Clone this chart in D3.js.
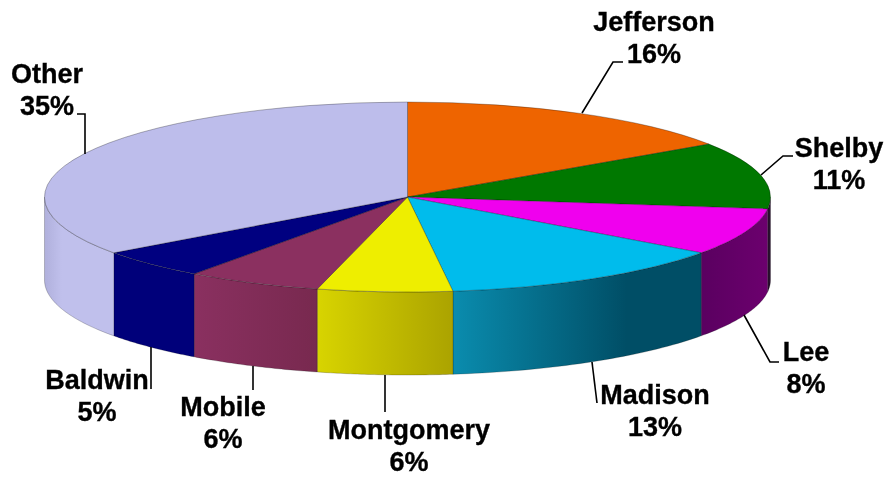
<!DOCTYPE html>
<html>
<head>
<meta charset="utf-8">
<script src="https://cdn.jsdelivr.net/npm/d3@7"></script>
<style>
  html, body { margin: 0; padding: 0; background: #fff; }
  svg { display: block; filter: blur(0.45px); }
  text { font-family: "Liberation Sans", Arial, sans-serif; font-weight: bold; fill: #000; stroke: #000; stroke-width: 0.35px; }
</style>
</head>
<body>
<div id="chart"></div>
<script>
// clockwise from 12 o'clock, like the original
var counties = ["Jefferson", "Shelby", "Lee", "Madison", "Montgomery", "Mobile", "Baldwin", "Other"];
// slice sizes, the labels show them rounded
var shares = [15.6, 11.4, 8, 13, 6, 6, 5, 35];
var topColors = ["#ee6400", "#007800", "#f000ee", "#00bcec", "#eeee00", "#8b3060", "#000080", "#bdbdeb"];
var sideLeft = ["#c05000", "#2a1030", "#5a0060", "#0a8cae", "#d8d400", "#8a3060", "#00007a", "#b0b0dc"];
var sideRight = ["#a04000", "#2a1030", "#6c006e", "#004e66", "#aba300", "#78294f", "#00007a", "#c0c0ec"];

// label anchor + first baseline, then leader line from the pie outwards
var labelPos = [[654, 31], [839, 157], [806, 361], [655, 404], [409, 439], [223, 416], [97, 389], [47, 83]];
var leaders = [
    [[582, 113], [613, 62], [623, 62]],
    [[761, 175], [783, 156], [793, 156]],
    [[744, 315], [770, 362], [779, 362]],
    [[592, 362], [597, 403]],
    [[385, 375], [385, 412]],
    [[253, 366], [253, 390]],
    [[151, 347], [151, 389]],
    [[85, 154], [85, 114], [77, 114]]
];

var width = 888, height = 477;
var cx = 407.5, cy = 197, rx = 363, ry = 95, depth = 83;
var fontSize = 27, lineGap = 31.5;

var svg = d3.select("#chart").append("svg")
    .attr("width", width)
    .attr("height", height);

var pie = d3.pie().sort(null).value(function(d) { return d; });
var slices = pie(shares);

var defs = svg.append("defs");
slices.forEach(function(s, i) {
    var g = defs.append("linearGradient")
        .attr("id", "side" + i)
        .attr("x1", "0%").attr("x2", "100%")
        .attr("y1", "0%").attr("y2", "0%");
    g.append("stop").attr("offset", "0%").attr("stop-color", sideLeft[i]);
    g.append("stop").attr("offset", i == 3 ? "70%" : i == 7 ? "25%" : "100%").attr("stop-color", sideRight[i]);
});

// point on the rim of the top ellipse
function rim(a) {
    return [cx + rx * Math.sin(a), cy - ry * Math.cos(a)];
}

// wall under a slice, only the part that faces the viewer
function wallPath(s) {
    var a0 = Math.max(s.startAngle, Math.PI / 2),
        a1 = Math.min(s.endAngle, Math.PI * 3 / 2);
    if (a1 <= a0) return null;
    var steps = d3.range(0, 41).map(function(k) { return a0 + (a1 - a0) * k / 40; });
    var top = steps.map(rim);
    var bottom = steps.slice().reverse().map(function(a) {
        var p = rim(a);
        return [p[0], p[1] + depth];
    });
    return d3.line()(top.concat(bottom)) + "Z";
}

var walls = svg.append("g");
slices.forEach(function(s, i) {
    var d = wallPath(s);
    if (!d) return;
    walls.append("path")
        .attr("d", d)
        .attr("fill", "url(#side" + i + ")")
        .attr("stroke", "#000")
        .attr("stroke-opacity", 0.35)
        .attr("stroke-width", 0.6);
});

// top face: circle arcs squashed to the ellipse
var arc = d3.arc().innerRadius(0).outerRadius(rx);
svg.append("g")
    .attr("transform", "translate(" + cx + "," + cy + ") scale(1," + (ry / rx) + ")")
    .selectAll("path")
    .data(slices)
    .enter()
    .append("path")
    .attr("d", arc)
    .attr("fill", function(d, i) { return topColors[i]; })
    .attr("stroke", "#000")
    .attr("stroke-opacity", 0.4)
    .attr("stroke-width", 0.7)
    .attr("vector-effect", "non-scaling-stroke");

svg.append("g")
    .selectAll("path")
    .data(leaders)
    .enter()
    .append("path")
    .attr("d", d3.line())
    .attr("fill", "none")
    .attr("stroke", "#000")
    .attr("stroke-width", 1.6);

var labels = svg.append("g")
    .selectAll("text")
    .data(counties)
    .enter()
    .append("text")
    .attr("text-anchor", "middle")
    .attr("font-size", fontSize)
    .attr("x", function(d, i) { return labelPos[i][0]; })
    .attr("y", function(d, i) { return labelPos[i][1]; });

labels.append("tspan").text(function(d) { return d; });
labels.append("tspan")
    .attr("x", function(d, i) { return labelPos[i][0]; })
    .attr("dy", lineGap)
    .text(function(d, i) { return Math.round(shares[i]) + "%"; });
</script>
</body>
</html>
